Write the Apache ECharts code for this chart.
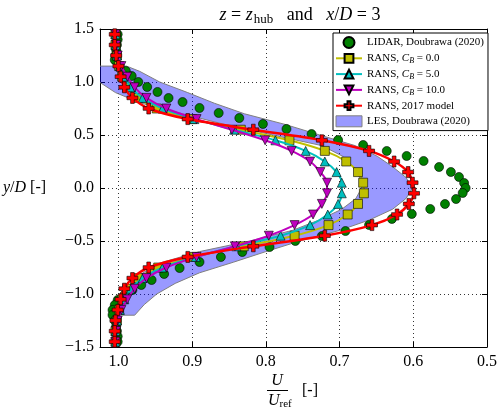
<!DOCTYPE html>
<html><head><meta charset="utf-8">
<script src="https://cdn.jsdelivr.net/npm/echarts@6/dist/echarts.min.js"></script>
<style>html,body{margin:0;padding:0;background:#fff}#c{width:500px;height:413px}</style>
</head><body><div id="c"></div>
<script>
// LIDAR measurements (x = U/Uref, y = y/D)
const lidarX = [1.001,1.001,1.002,1.003,1.004,1.005,0.999,0.990,0.982,0.973,0.961,0.947,0.932,0.913,0.890,0.864,0.836,0.804,0.772,0.738,0.702,0.668,0.636,0.609,0.586,0.565,0.549,0.538,0.531,0.529,0.533,0.542,0.557,0.577,0.602,0.629,0.660,0.692,0.724,0.760,0.795,0.832,0.861,0.890,0.917,0.938,0.955,0.969,0.981,0.992,1.001,1.005,1.008,1.008,1.005,1.003,1.002,1.001,1.001];
const lidarY = [1.45,1.40,1.35,1.30,1.25,1.208,1.151,1.104,1.057,1.0,0.953,0.906,0.849,0.811,0.755,0.708,0.660,0.604,0.557,0.509,0.453,0.406,0.349,0.302,0.255,0.198,0.151,0.104,0.047,0.0,-0.047,-0.104,-0.151,-0.198,-0.245,-0.292,-0.349,-0.406,-0.453,-0.5,-0.557,-0.604,-0.651,-0.698,-0.755,-0.811,-0.868,-0.915,-0.962,-1.009,-1.057,-1.104,-1.151,-1.198,-1.25,-1.30,-1.35,-1.40,-1.45];

// RANS profiles at marker positions
const ransY = [1.45,1.35,1.25,1.15,1.05,0.95,0.85,0.75,0.65,0.55,0.45,0.35,0.25,0.15,0.05,-0.05,-0.15,-0.25,-0.35,-0.45,-0.55,-0.65,-0.75,-0.85,-0.95,-1.05,-1.15,-1.25,-1.35,-1.45];
const ransCB0  = [1.004,1.004,1.002,0.999,0.995,0.988,0.973,0.948,0.900,0.834,0.768,0.720,0.691,0.675,0.668,0.667,0.675,0.689,0.715,0.761,0.830,0.897,0.946,0.973,0.988,0.995,0.999,1.002,1.004,1.004];
const ransCB5  = [1.004,1.004,1.002,0.998,0.992,0.983,0.967,0.940,0.897,0.843,0.787,0.746,0.720,0.704,0.697,0.697,0.702,0.716,0.740,0.780,0.840,0.895,0.940,0.967,0.983,0.992,0.998,1.002,1.004,1.004];
const ransCB10 = [1.004,1.003,1.001,0.996,0.988,0.978,0.962,0.935,0.894,0.846,0.801,0.765,0.740,0.726,0.717,0.717,0.724,0.736,0.761,0.796,0.842,0.894,0.935,0.962,0.978,0.988,0.996,1.001,1.003,1.004];
const rans2017 = [1.005,1.005,1.003,1.000,0.997,0.992,0.981,0.959,0.906,0.817,0.724,0.660,0.626,0.607,0.601,0.599,0.606,0.622,0.656,0.720,0.817,0.906,0.959,0.981,0.992,0.997,1.001,1.004,1.005,1.005];

// LES band
const lesY     = [1.15,1.1,1.0,0.9,0.8,0.7,0.6,0.5,0.4,0.3,0.2,0.1,0.0,-0.1,-0.2,-0.3,-0.4,-0.5,-0.6,-0.7,-0.8,-0.9,-1.0,-1.1,-1.2];
const lesInner = [1.040,1.035,1.026,1.004,0.969,0.913,0.856,0.791,0.724,0.696,0.681,0.673,0.670,0.678,0.697,0.727,0.764,0.822,0.890,0.940,0.967,0.981,0.992,0.997,0.995];
const lesOuter = [0.989,0.971,0.944,0.906,0.870,0.829,0.774,0.727,0.679,0.649,0.628,0.610,0.601,0.610,0.628,0.659,0.700,0.754,0.800,0.844,0.890,0.923,0.948,0.965,0.978];

const xTickLabels = ['1.0','0.9','0.8','0.7','0.6','0.5'];
const yTickLabels = ['\u22121.5','\u22121.0','\u22120.5','0.0','0.5','1.0','1.5'];

const names = ['LIDAR, Doubrawa (2020)','RANS, CB = 0.0','RANS, CB = 5.0','RANS, CB = 10.0','RANS, 2017 model','LES, Doubrawa (2020)'];
const legendRich = {
  'LIDAR, Doubrawa (2020)': '{r|LIDAR, Doubrawa (2020)}',
  'RANS, CB = 0.0': '{r|RANS, }{i|C}{s|B}{r| = 0.0}',
  'RANS, CB = 5.0': '{r|RANS, }{i|C}{s|B}{r| = 5.0}',
  'RANS, CB = 10.0': '{r|RANS, }{i|C}{s|B}{r| = 10.0}',
  'RANS, 2017 model': '{r|RANS, 2017 model}',
  'LES, Doubrawa (2020)': '{r|LES, Doubrawa (2020)}'
};
const SERIF = '"Liberation Serif", "DejaVu Serif", serif';
const plusPath = 'path://M1,0H2V1H3V2H2V3H1V2H0V1H1Z';

function pairs(xs, ys){ return xs.map((x,i)=>[x, ys[i]]); }

const chart = echarts.init(document.getElementById('c'), null, {renderer:'canvas'});
const axisCommon = {
  type:'value', min:0.5, max:1.025, interval:0.1, inverse:true
};
chart.setOption({
  animation:false,
  backgroundColor:'#fff',
  title:{
    text:'{i|z}{r| = }{i|z}{s|hub}{r|   and   }{i|x}{r|/}{i|D}{r| = 3}',
    left:295, top:0, textAlign:'center',
    textStyle:{fontWeight:'normal', rich:{
      i:{fontFamily:SERIF, fontStyle:'italic', fontWeight:'normal', fontSize:18, color:'#000'},
      r:{fontFamily:SERIF, fontWeight:'normal', fontSize:18, color:'#000'},
      s:{fontFamily:SERIF, fontWeight:'normal', fontSize:13, color:'#000', padding:[8,0,0,1]}
    }}
  },
  grid:{left:100, right:13, top:29, bottom:66},
  xAxis:[
    Object.assign({}, axisCommon, {
      position:'bottom',
      axisLine:{show:true, onZero:false, lineStyle:{color:'#000', width:1}},
      axisTick:{show:true, inside:true, length:5, lineStyle:{color:'#000'}},
      axisLabel:{color:'#000', fontFamily:SERIF, fontSize:16, margin:7,
        formatter:function(v){ const k = Math.round((1.0 - v)*10); return (Math.abs(v-(1.0-k/10))<1e-6 && k>=0 && k<xTickLabels.length) ? xTickLabels[k] : ''; }},
      splitLine:{show:true, lineStyle:{color:'#000', type:[1,3], width:0.8}}
    }),
    Object.assign({}, axisCommon, {
      position:'top',
      axisLine:{show:true, onZero:false, lineStyle:{color:'#000', width:1}},
      axisTick:{show:true, inside:true, length:5, lineStyle:{color:'#000'}},
      axisLabel:{show:false}, splitLine:{show:false}
    })
  ],
  yAxis:[
    {type:'value', min:-1.5, max:1.5, interval:0.5, position:'left',
      axisLine:{show:true, onZero:false, lineStyle:{color:'#000', width:1}},
      axisTick:{show:true, inside:true, length:5, lineStyle:{color:'#000'}},
      axisLabel:{color:'#000', fontFamily:SERIF, fontSize:16, margin:6,
        formatter:function(v){ const k = Math.round((v+1.5)/0.5); return yTickLabels[k] || ''; }},
      splitLine:{show:true, lineStyle:{color:'#000', type:[1,3], width:0.8}}
    },
    {type:'value', min:-1.5, max:1.5, interval:0.5, position:'right',
      axisLine:{show:true, onZero:false, lineStyle:{color:'#000', width:1}},
      axisTick:{show:true, inside:true, length:5, lineStyle:{color:'#000'}},
      axisLabel:{show:false}, splitLine:{show:false}
    }
  ],
  legend:{
    orient:'vertical', left:333, top:33,
    padding:[3,4,3,2], itemGap:3, itemWidth:26, itemHeight:11,
    borderColor:'#000', borderWidth:1, borderRadius:0, backgroundColor:'#fff',
    symbolRotate:'inherit',
    data:[
      {name:names[0]}, {name:names[1]}, {name:names[2]}, {name:names[3]}, {name:names[4]},
      {name:names[5], icon:'rect', itemStyle:{color:'rgba(0,0,255,0.4)', borderColor:'#808080', borderWidth:1}}
    ],
    formatter:function(n){ return legendRich[n]; },
    textStyle:{lineHeight:12.6, rich:{
      r:{fontFamily:SERIF, fontSize:11, color:'#000', lineHeight:12.6},
      i:{fontFamily:SERIF, fontStyle:'italic', fontSize:11, color:'#000', lineHeight:12.6},
      s:{fontFamily:SERIF, fontStyle:'italic', fontSize:8, color:'#000', padding:[5,0,0,0]}
    }}
  },
  graphic:[
    {type:'text', left:3, top:180, style:{text:'{i|y}{r|/}{i|D}{r| [-]}', rich:{
      i:{fontFamily:SERIF, fontStyle:'italic', fontSize:16, fill:'#000'},
      r:{fontFamily:SERIF, fontSize:16, fill:'#000'}}}},
    {type:'text', x:277, y:381, style:{text:'U', font:'italic 16px "Liberation Serif"', fill:'#000', align:'center', verticalAlign:'middle'}},
    {type:'line', shape:{x1:267, y1:390.5, x2:288, y2:390.5}, style:{stroke:'#000', lineWidth:1}},
    {type:'text', x:268, y:392, style:{text:'{i|U}{s|ref}', rich:{
      i:{fontFamily:SERIF, fontStyle:'italic', fontSize:16, fill:'#000'},
      s:{fontFamily:SERIF, fontSize:11, fill:'#000', padding:[7,0,0,0]}}}},
    {type:'text', x:302, y:391, style:{text:'[-]', font:'16px "Liberation Serif"', fill:'#000', verticalAlign:'middle'}}
  ],
  series:[
    {name:names[5], type:'custom', clip:true, z:1,
      itemStyle:{color:'rgba(0,0,255,0.4)', borderColor:'#808080'},
      data:[[lesOuter[12], lesY[12]]],
      renderItem:function(params, api){
        const pts = [];
        for (let i=0;i<lesY.length;i++) pts.push(api.coord([lesInner[i], lesY[i]]));
        for (let i=lesY.length-1;i>=0;i--) pts.push(api.coord([lesOuter[i], lesY[i]]));
        return {type:'polygon', shape:{points:pts}, style:{fill:'rgba(0,0,255,0.4)', stroke:'#808080', lineWidth:1}};
      }
    },
    {name:names[0], type:'scatter', z:2, symbol:'circle', symbolSize:9,
      itemStyle:{color:'#008000', borderColor:'#000', borderWidth:0.6, opacity:1},
      data:pairs(lidarX, lidarY)},
    {name:names[1], type:'line', z:3, smooth:0.3, symbol:'rect', symbolSize:9, showAllSymbol:true,
      lineStyle:{color:'#bfbf00', width:2}, itemStyle:{color:'#bfbf00', borderColor:'#000', borderWidth:0.6},
      data:pairs(ransCB0, ransY)},
    {name:names[2], type:'line', z:4, smooth:0.3, symbol:'triangle', symbolSize:9, showAllSymbol:true,
      lineStyle:{color:'#00bfbf', width:2}, itemStyle:{color:'#00bfbf', borderColor:'#000', borderWidth:0.6},
      data:pairs(ransCB5, ransY)},
    {name:names[3], type:'line', z:5, smooth:0.3, symbol:'triangle', symbolRotate:180, symbolSize:9, showAllSymbol:true,
      lineStyle:{color:'#bf00bf', width:2}, itemStyle:{color:'#bf00bf', borderColor:'#000', borderWidth:0.6},
      data:pairs(ransCB10, ransY)},
    {name:names[4], type:'line', z:6, smooth:0.3, symbol:plusPath, symbolSize:11, showAllSymbol:true,
      lineStyle:{color:'#ff0000', width:2.5}, itemStyle:{color:'#ff0000', borderColor:'#000', borderWidth:0.6},
      data:pairs(rans2017, ransY)}
  ]
});
</script></body></html>
